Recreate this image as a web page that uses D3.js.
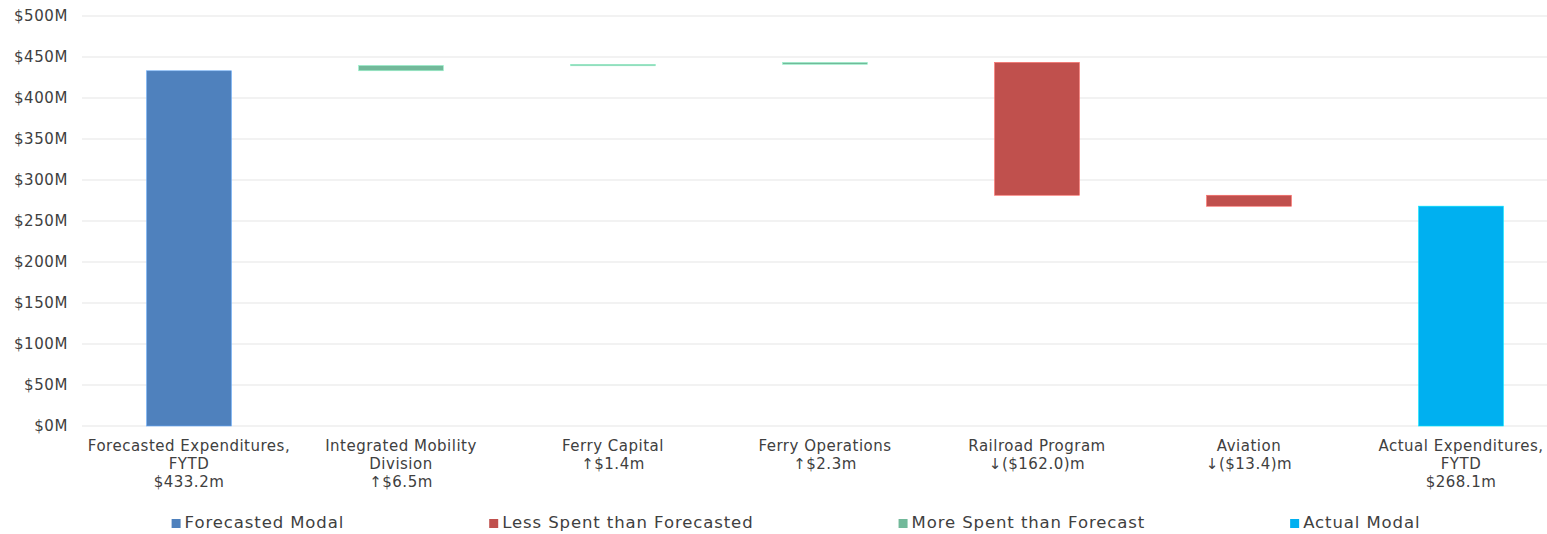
<!DOCTYPE html>
<html><head><meta charset="utf-8">
<script src="https://cdn.jsdelivr.net/npm/d3@7"></script>
<style>
html,body{margin:0;padding:0;background:#fff;}
svg{display:block;}
text{font-family:"DejaVu Sans",sans-serif;fill:#404040;}
</style></head>
<body><svg id="chart" width="1547" height="534"></svg>
<script>
const categories = [
  ["Forecasted Expenditures,", "FYTD", "$433.2m"],
  ["Integrated Mobility", "Division", "\u2191$6.5m"],
  ["Ferry Capital", "\u2191$1.4m"],
  ["Ferry Operations", "\u2191$2.3m"],
  ["Railroad Program", "\u2193($162.0)m"],
  ["Aviation", "\u2193($13.4)m"],
  ["Actual Expenditures,", "FYTD", "$268.1m"]
];
const values = [433.2, 6.5, 1.4, 2.3, -162.0, -13.4, 268.1];
const kinds = ["total", "delta", "delta", "delta", "delta", "delta", "end"];
const yTicks = [0, 50, 100, 150, 200, 250, 300, 350, 400, 450, 500];
const legendLabels = ["Forecasted Modal", "Less Spent than Forecasted", "More Spent than Forecast", "Actual Modal"];
const legendColors = ["#4F81BD", "#C0504D", "#72B99A", "#00B0F0"];

const svg = d3.select("#chart");
const W = 1547;
const x = d3.scaleBand().domain(d3.range(values.length)).range([83, 1567]).paddingInner(0.6).paddingOuter(0.3);
const y = d3.scaleLinear().domain([0, 500]).range([426, 16]);

// gridlines
svg.append("g").selectAll("line").data(yTicks).join("line")
  .attr("x1", 82).attr("x2", W)
  .attr("y1", d => y(d)).attr("y2", d => y(d))
  .attr("stroke", "#eeeeee").attr("stroke-width", 1.5);

// y axis
const yAxis = d3.axisLeft(y).tickValues(yTicks).tickSize(0).tickPadding(0)
  .tickFormat(d => "$" + d + "M");
const gy = svg.append("g").attr("transform", "translate(68,0)").call(yAxis);
gy.select(".domain").remove();
gy.selectAll("text").attr("font-size", 15).attr("fill", "#404040")
  .style("font-family", "DejaVu Sans").style("letter-spacing", "0.6px");

// waterfall computation
let running = 0;
const bars = values.map((v, i) => {
  let lo, hi, color;
  if (kinds[i] === "total") { lo = 0; hi = v; running = v; color = legendColors[0]; }
  else if (kinds[i] === "end") { lo = 0; hi = v; color = legendColors[3]; }
  else {
    const s = running; running += v;
    lo = Math.min(s, running); hi = Math.max(s, running);
    color = v < 0 ? legendColors[1] : legendColors[2];
  }
  return {i, lo, hi, color};
});

svg.append("g").selectAll("rect").data(bars).join("rect")
  .attr("x", d => x(d.i))
  .attr("width", x.bandwidth())
  .attr("y", d => y(d.hi))
  .attr("height", d => Math.max(1.5, y(d.lo) - y(d.hi)))
  .attr("fill", d => d.color)
  .attr("stroke", d => d3.color(d.color).brighter(0.8))
  .attr("stroke-width", 0.6);

// category labels
const xl = svg.append("g");
categories.forEach((lines, i) => {
  const cx = x(i) + x.bandwidth() / 2;
  const t = xl.append("text").attr("text-anchor", "middle")
    .attr("x", cx).attr("y", 451)
    .attr("font-size", 15).style("letter-spacing", "0.5px");
  lines.forEach((ln, j) => {
    t.append("tspan").attr("x", cx).attr("dy", j === 0 ? 0 : 18).text(ln);
  });
});

// legend
const lg = svg.append("g");
const items = legendLabels.map((lab, i) => {
  const g = lg.append("g");
  g.append("rect").attr("width", 9).attr("height", 9).attr("y", -9).attr("fill", legendColors[i]);
  const t = g.append("text").attr("x", 13).attr("y", 0).attr("font-size", 16.5)
    .style("letter-spacing", "0.9px").text(lab);
  return {g, w: 13 + t.node().getComputedTextLength()};
});
const gap = 145;
const total = d3.sum(items, d => d.w) + gap * (items.length - 1);
let lx = 796 - total / 2;
items.forEach(it => { it.g.attr("transform", `translate(${lx},528)`); lx += it.w + gap; });
</script>
</body></html>
